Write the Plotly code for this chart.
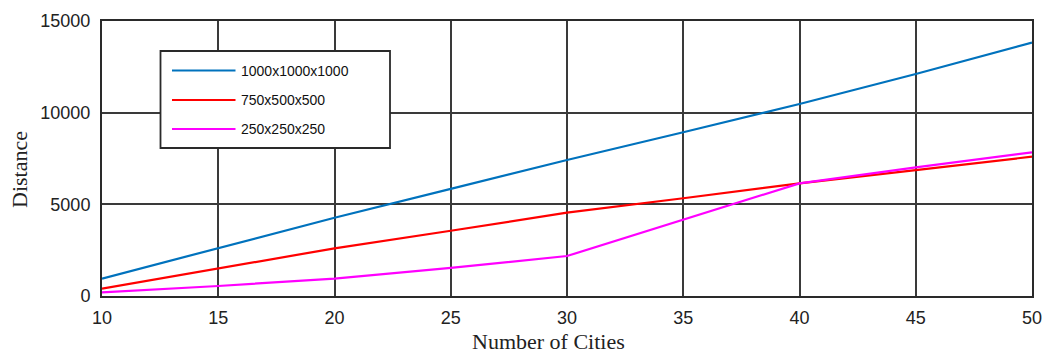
import plotly.graph_objects as go

cities = [10, 15, 20, 25, 30, 35, 40, 45, 50]
blue_vals = [950, 2600, 4270, 5840, 7420, 8930, 10470, 12110, 13820]
red_vals = [400, 1510, 2600, 3560, 4545, 5330, 6145, 6870, 7600]
pink_vals = [200, 545, 950, 1530, 2180, 4180, 6145, 7020, 7840]

names = ["1000x1000x1000", "750x500x500", "250x250x250"]
colors = ["#0072BD", "#FF0000", "#FF00FF"]
series = [blue_vals, red_vals, pink_vals]

x_ticks = [10, 15, 20, 25, 30, 35, 40, 45, 50]
y_ticks = [0, 5000, 10000, 15000]
y_tick_labels = ["0", "5000", "10000", "15000"]

W, H = 1043, 353
L, R, T, B = 102, 1032, 21, 296  # plot area in window pixels

fig = go.Figure()
for nm, c, v in zip(names, colors, series):
    fig.add_trace(go.Scatter(x=cities, y=v, mode="lines", name=nm,
                             line=dict(color=c, width=2.2), showlegend=False))

tick_font = dict(family="Liberation Sans, Arial", size=18, color="#222222")

fig.update_xaxes(range=[10, 50], tickvals=x_ticks, showgrid=True, gridcolor="#3a3a3a", gridwidth=1.5,
                 showline=True, linecolor="#2a2a2a", linewidth=2, mirror=True, zeroline=False,
                 ticks="", tickfont=tick_font, ticklabelstandoff=4, automargin=False)
fig.update_yaxes(range=[0, 15000], tickvals=y_ticks, ticktext=y_tick_labels, showgrid=True,
                 gridcolor="#3a3a3a", gridwidth=1.5,
                 showline=True, linecolor="#2a2a2a", linewidth=2, mirror=True, zeroline=False,
                 ticks="", tickfont=tick_font, ticklabelstandoff=6, automargin=False)

def px(xp):
    return (xp - L) / (R - L)

def py(yp):
    return (B - yp) / (B - T)

shapes = [dict(type="rect", xref="paper", yref="paper", x0=px(160.5), x1=px(390), y0=py(148), y1=py(51),
               fillcolor="white", line=dict(color="#2a2a2a", width=1.8), layer="above")]
annotations = []
rows = [70.5, 100, 129]
for nm, c, ry in zip(names, colors, rows):
    shapes.append(dict(type="line", xref="paper", yref="paper", x0=px(172), x1=px(235.5), y0=py(ry), y1=py(ry),
                       line=dict(color=c, width=2.2), layer="above"))
    annotations.append(dict(xref="paper", yref="paper", x=px(239), y=py(ry), text=nm, showarrow=False,
                            xanchor="left", yanchor="middle",
                            font=dict(family="Liberation Sans, Arial", size=14, color="#111111")))

annotations.append(dict(xref="paper", yref="paper", x=px(548), y=py(341.5), text="Number of Cities", showarrow=False,
                        xanchor="center", yanchor="middle",
                        font=dict(family="Liberation Serif, Times New Roman, serif", size=22, color="#222222")))
annotations.append(dict(xref="paper", yref="paper", x=px(20), y=py(170), text="Distance", showarrow=False,
                        textangle=-90, xanchor="center", yanchor="middle",
                        font=dict(family="Liberation Serif, Times New Roman, serif", size=22, color="#222222")))

fig.update_layout(width=W, height=H,
                  margin=dict(l=L, r=W - R, t=T, b=H - B),
                  paper_bgcolor="white", plot_bgcolor="white", shapes=shapes, annotations=annotations)

fig.write_html("out.html", config={"displayModeBar": False},
               post_script="document.body.style.margin='0';document.body.style.overflow='hidden';")
